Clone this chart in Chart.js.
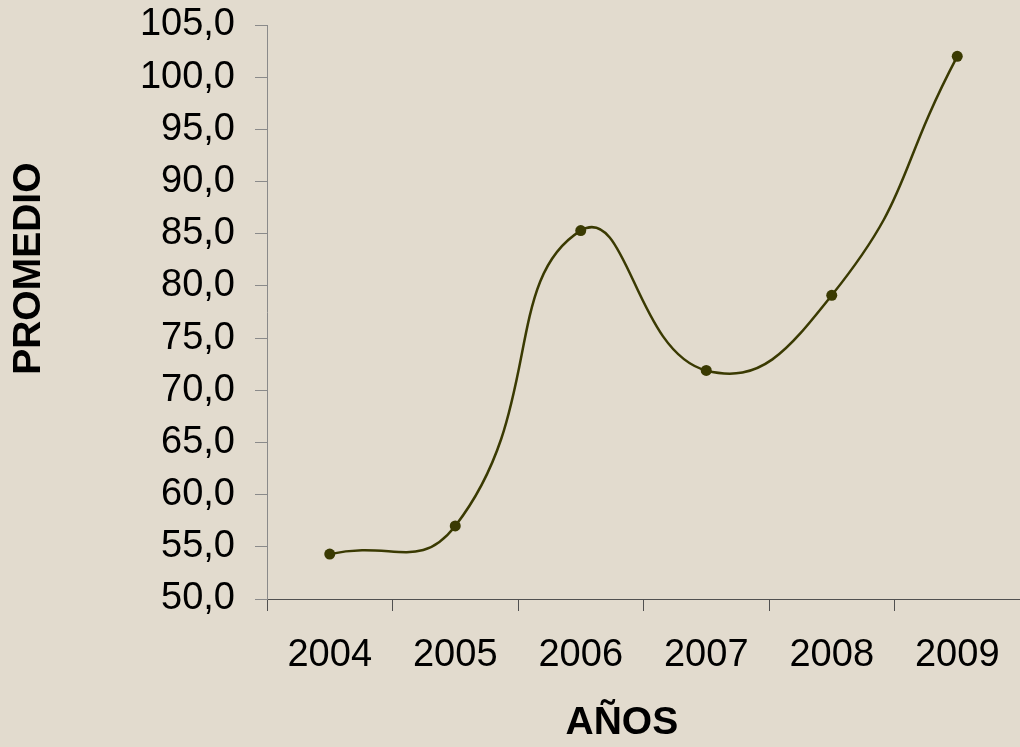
<!DOCTYPE html>
<html>
<head>
<meta charset="utf-8">
<script src="https://cdn.jsdelivr.net/npm/chart.js@4/dist/chart.umd.min.js"></script>
<style>
  html, body { margin: 0; padding: 0; background: #E2DBCE; }
  #wrap { width: 1020px; height: 747px; position: relative; overflow: hidden; }
</style>
</head>
<body>
<div id="wrap"><canvas id="c" width="1020" height="747"></canvas></div>
<script>
const years = ['2004', '2005', '2006', '2007', '2008', '2009'];
const promedio = [54.3, 57.0, 85.3, 71.9, 79.1, 102.0];
const yMin = 50, yMax = 105, yStep = 5;
const xTitle = 'AÑOS';
const yTitle = 'PROMEDIO';

const FONT = '"Liberation Sans", Arial, Helvetica, sans-serif';
const lineColor = '#3A3A02';

const bgPlugin = {
  id: 'bg',
  beforeDraw(chart) {
    const ctx = chart.ctx;
    ctx.save();
    ctx.fillStyle = '#E2DBCE';
    ctx.fillRect(0, 0, chart.width, chart.height);
    ctx.restore();
  }
};

new Chart(document.getElementById('c'), {
  type: 'line',
  data: {
    labels: years,
    datasets: [{
      label: yTitle,
      data: promedio,
      borderColor: lineColor,
      backgroundColor: lineColor,
      borderWidth: 2.5,
      tension: 0.5,
      pointRadius: 5.5,
      pointBackgroundColor: lineColor,
      pointBorderColor: lineColor,
      pointBorderWidth: 0,
      fill: false,
      clip: false
    }]
  },
  options: {
    responsive: false,
    animation: false,
    layout: { autoPadding: false, padding: { top: 25, right: 0, bottom: 0, left: 0 } },
    plugins: { legend: { display: false }, tooltip: { enabled: false } },
    scales: {
      x: {
        offset: true,
        grid: { display: true, offset: true, drawOnChartArea: false, tickLength: 12, color: '#505050', lineWidth: 1 },
        border: { display: true, color: '#505050', width: 1 },
        ticks: { color: '#000', font: { family: FONT, size: 38 }, padding: 22, maxRotation: 0 },
        title: { display: true, text: xTitle + '    ', color: '#000', font: { family: FONT, size: 39, weight: 'bold' }, padding: { top: 0, bottom: 0 } },
        afterFit(scale) { scale.height = 148; scale.paddingLeft = 0; scale.paddingRight = 0; }
      },
      y: {
        min: yMin, max: yMax,
        grid: { display: true, drawOnChartArea: false, tickLength: 12, color: '#8A8A8A', lineWidth: 1 },
        border: { display: true, color: '#8A8A8A', width: 1 },
        ticks: {
          stepSize: yStep,
          color: '#000',
          font: { family: FONT, size: 38 },
          padding: 20,
          callback: (v) => Number(v).toFixed(1).replace('.', ',')
        },
        title: { display: true, text: '        ' + yTitle, color: '#000', font: { family: FONT, size: 39, weight: 'bold' }, padding: { top: 6, bottom: 0 } },
        afterFit(scale) { scale.width = 267; scale.paddingTop = 0; scale.paddingBottom = 0; }
      }
    }
  },
  plugins: [bgPlugin]
});
</script>
</body>
</html>
